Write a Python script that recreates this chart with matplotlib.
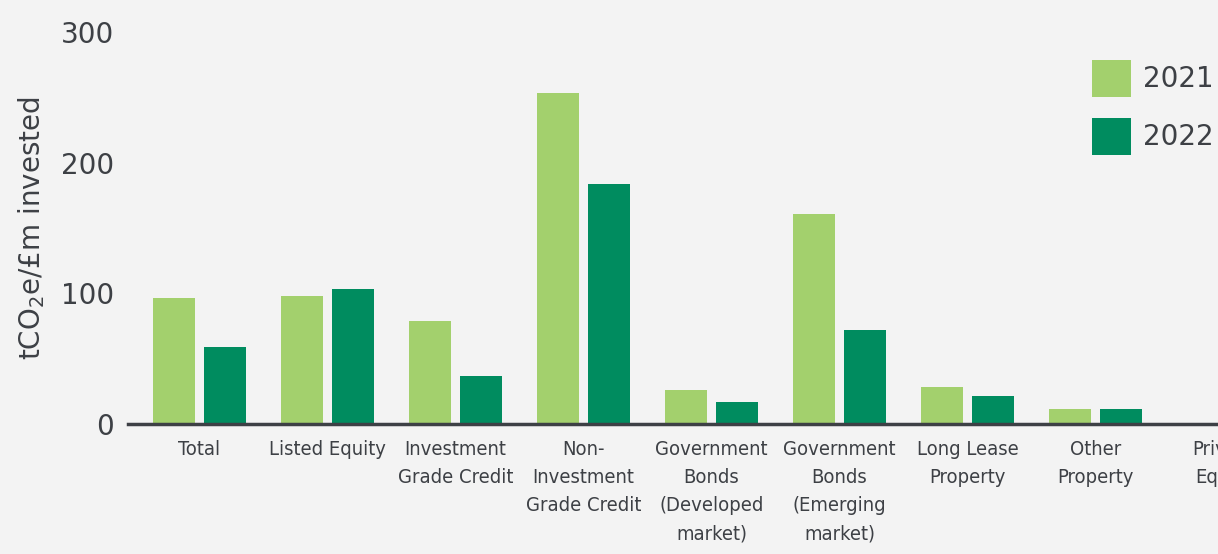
import numpy as np
import matplotlib
matplotlib.use("Agg")
from matplotlib import pyplot as plt
from matplotlib import font_manager

# asset classes (Private Equity has no bar in the visible part)
categories = ["Total", "Listed Equity", "Investment\nGrade Credit",
              "Non-\nInvestment\nGrade Credit", "Government\nBonds\n(Developed\nmarket)",
              "Government\nBonds\n(Emerging\nmarket)", "Long Lease\nProperty",
              "Other\nProperty", "Private\nEquity"]
values_2021 = [96, 98, 79, 253, 26, 161, 28, 11, np.nan]
values_2022 = [59, 103, 37, 184, 17, 72, 21, 11.5, np.nan]

col_2021 = "#a3d06d"
col_2022 = "#008c5f"
txt = "#3d4045"
bg = "#f3f3f3"


def narrow_font():
    # look for any condensed / narrow face that is installed
    for f in font_manager.fontManager.ttflist:
        n = (f.name + " " + f.fname).lower()
        if ("condensed" in n or "narrow" in n) and f.weight in (400, "normal", "regular") \
                and f.style == "normal":
            return f.fname
    return None


def main():
    fig = plt.figure(figsize=(12.18, 5.54), dpi=100, facecolor=bg)
    # axes run past the right edge, like the cropped original
    ax = fig.add_axes([0.105, 0.235, 0.952, 0.707], facecolor=bg)

    x = np.arange(len(categories))
    w = 0.33
    ax.bar(x - 0.2, values_2021, w, color=col_2021, label="2021")
    ax.bar(x + 0.2, values_2022, w, color=col_2022, label="2022")

    ax.set_xlim(-0.56, 8.5)
    ax.set_ylim(0, 300)
    ax.set_yticks([0, 100, 200, 300])
    ax.set_xticks(x)

    fpath = narrow_font()
    if fpath:
        fp = font_manager.FontProperties(fname=fpath, size=14.5)
    else:
        fp = font_manager.FontProperties(family="DejaVu Sans", size=12)
    ax.set_xticklabels(categories, fontproperties=fp, color=txt, linespacing=1.6)
    ax.tick_params(axis="x", length=0, pad=12)
    ax.tick_params(axis="y", length=0, pad=10, labelsize=20, labelcolor=txt)

    for s in ["top", "right", "left"]:
        ax.spines[s].set_visible(False)
    ax.spines["bottom"].set_color(txt)
    ax.spines["bottom"].set_linewidth(2.5)

    ax.set_ylabel(r"tCO$_2$e/£m invested", fontsize=20, color=txt, labelpad=10)

    fig.legend(loc="upper left", bbox_to_anchor=(0.8966, 0.892), frameon=False,
               fontsize=20, handlelength=1.4, handleheight=1.68, labelspacing=0.75,
               handletextpad=0.45, borderpad=0, borderaxespad=0, labelcolor=txt)

    fig.savefig("out.png", dpi=100, facecolor=bg)


if __name__ == "__main__":
    main()
